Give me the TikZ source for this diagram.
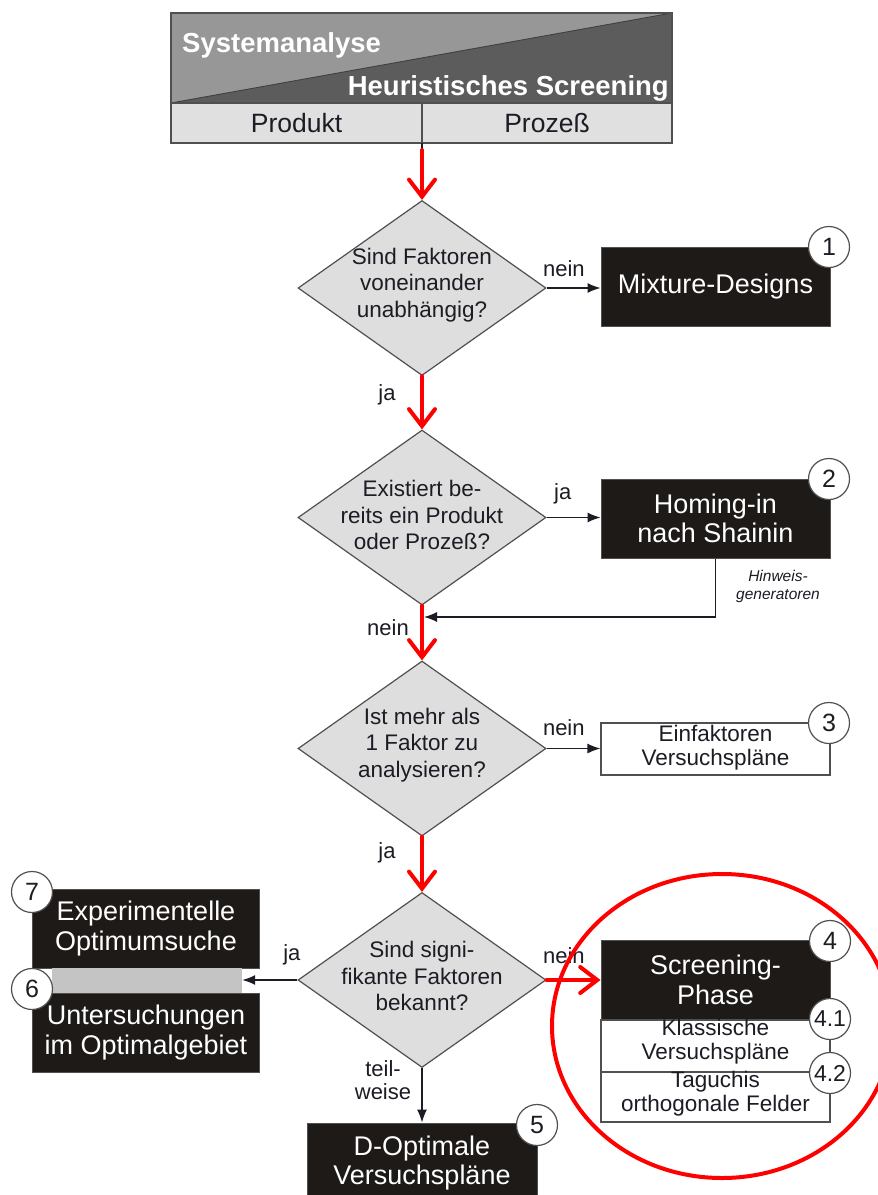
\documentclass[tikz,border=0pt]{standalone}
\usepackage{fontspec}
\setmainfont{Liberation Sans}
\usetikzlibrary{shapes.geometric,arrows.meta}

\definecolor{boxblack}{HTML}{1E1A18}
\definecolor{diafill}{HTML}{DEDEDE}
\definecolor{edge}{HTML}{505050}
\definecolor{hlight}{HTML}{979797}
\definecolor{hdark}{HTML}{5C5C5C}
\definecolor{rowfill}{HTML}{E0E0E0}
\definecolor{barfill}{HTML}{C4C4C4}
\definecolor{ink}{HTML}{1C1C24}

\tikzset{
  dia/.style={diamond, draw=edge, fill=diafill, line width=1.2pt,
    minimum width=248pt, minimum height=175pt, inner sep=0pt},
  dtext/.style={align=center, text=ink, inner sep=0pt,
    font=\fontsize{22.5}{26.5}\selectfont},
  blk/.style={rectangle, draw=edge, fill=boxblack, text=white, line width=1pt,
    align=center, inner sep=0pt, minimum width=229pt, minimum height=79pt,
    font=\fontsize{27}{29.5}\selectfont},
  wbox/.style={rectangle, draw=edge, fill=white, line width=1.2pt,
    minimum width=229pt, inner sep=0pt},
  wtext/.style={align=center, text=ink, inner sep=0pt,
    font=\fontsize{22.5}{24}\selectfont},
  num/.style={circle, draw=edge, fill=white, line width=1.2pt, text=ink,
    minimum size=41pt, inner sep=0pt, font=\fontsize{25}{25}\selectfont},
  numsm/.style={num, font=\fontsize{23}{23}\selectfont},
  lbl/.style={text=ink, inner sep=0pt, align=center,
    font=\fontsize{22}{23}\selectfont},
  flow/.style={red, line width=4pt, line cap=round,
    -{Straight Barb[length=17pt,width=26pt,line cap=round]}},
  side/.style={draw=ink, line width=1.3pt, -{Latex[length=13pt,width=10pt]}},
  hdrtext/.style={text=white, inner sep=0pt,
    font=\bfseries\fontsize{27.5}{27.5}\selectfont},
  rowcell/.style={rectangle, fill=rowfill, text=ink, inner sep=0pt,
    minimum height=40pt, font=\fontsize{26.5}{26.5}\selectfont}
}

\begin{document}
\begin{tikzpicture}[x=1pt, y=-1pt]
\clip (0,0) rectangle (878,1195);
\fill[white] (0,0) rectangle (878,1195);

% ---------- header: Systemanalyse / Heuristisches Screening ----------
\coordinate (hTL) at (171,13);
\coordinate (hTR) at (672,13);
\coordinate (hML) at (171,103);
\coordinate (hMR) at (672,103);
\coordinate (hBL) at (171,143);
\coordinate (hBR) at (672,143);
\coordinate (hS) at (422,143);
\fill[hlight] (hTL) -- (hTR) -- (hML) -- cycle;
\fill[hdark] (hTR) -- (hMR) -- (hML) -- cycle;
\draw[black!75, line width=0.9pt] (hML) -- (hTR);
\node[hdrtext, anchor=west] (sys) at (182,45) {Systemanalyse};
\node[hdrtext, anchor=east] (heu) at (669,88) {Heuristisches Screening};
\node[rowcell, minimum width=251pt] (prod) at (296.5,123) {Produkt};
\node[rowcell, minimum width=250pt] (proz) at (547,123) {Prozeß};
\draw[edge, line width=1.5pt] (hML) -- (hMR);
\draw[edge, line width=1.2pt] (422,103) -- (hS);
\draw[edge, line width=1.5pt] (hTL) rectangle (hBR);

% ---------- decisions ----------
\node[dia] (d1) at (422,288) {};
\node[dtext] (t1) at (422,285) {Sind Faktoren\\voneinander\\unabhängig?};
\node[dia] (d2) at (422,517.5) {};
\node[dtext] (t2) at (422,515) {Existiert be-\\reits ein Produkt\\oder Prozeß?};
\node[dia] (d3) at (422,748.5) {};
\node[dtext] (t3) at (422,745) {Ist mehr als\\1 Faktor zu\\analysieren?};
\node[dia] (d4) at (422,980) {};
\node[dtext] (t4) at (422,976) {Sind signi-\\fikante Faktoren\\bekannt?};

% ---------- method boxes ----------
\node[blk] (b1) at (715.5,286.5) {Mixture-Designs};
\node[blk] (b2) at (715.5,518.5) {Homing-in\\nach Shainin};
\node[wbox, minimum height=52pt] (b3) at (715.5,749) {};
\node[wtext] (t3b) at (715.5,748) {Einfaktoren\\Versuchspläne};
\node[blk, minimum height=80pt] (b4) at (715.5,980) {Screening-\\Phase};
\node[wbox, minimum height=52pt] (b41) at (715.5,1046) {};
\node[wtext] (t41) at (715.5,1041.5) {Klassische\\Versuchspläne};
\node[wbox, minimum height=50pt] (b42) at (715.5,1097) {};
\node[wtext] (t42) at (715.5,1094) {Taguchis\\orthogonale Felder};
\node[blk, minimum width=230pt, minimum height=80pt] (b5) at (422,1163)
  {D-Optimale\\Versuchspläne};
\node[blk, minimum width=227pt] (b7) at (146,928.5) {Experimentelle\\Optimumsuche};
\node[rectangle, fill=barfill, minimum width=190pt, minimum height=25pt,
  inner sep=0pt] (bar) at (147,980.5) {};
\node[blk, minimum width=227pt] (b6) at (146,1032.5) {Untersuchungen\\im Optimalgebiet};

% ---------- number badges ----------
\node[num] (n1) at (829,247) {1};
\node[num] (n2) at (829,479) {2};
\node[num] (n3) at (829,723) {3};
\node[num] (n4) at (830,941) {4};
\node[numsm] (n41) at (830,1019) {4.1};
\node[numsm] (n42) at (830,1073) {4.2};
\node[num] (n5) at (537,1125) {5};
\node[num] (n6) at (32,989) {6};
\node[num] (n7) at (32,892) {7};

% ---------- main flow (red) ----------
\draw[ink, line width=1.2pt] (hS) -- ++(0,10);
\draw[flow] ([yshift=-7pt]hS) -- (d1.north);
\draw[flow] (d1.south) -- (d2.north)
  node[lbl, pos=0.36, xshift=-35pt] (lja1) {ja};
\draw[flow] (d2.south) -- (d3.north)
  node[lbl, pos=0.4, xshift=-34pt] (lnein2) {nein};
\draw[flow] (d3.south) -- (d4.north)
  node[lbl, pos=0.3, xshift=-35pt] (lja3) {ja};
\draw[flow] (d4.east) -- (d4.east -| b4.west)
  node[lbl, pos=0.32, yshift=24pt] (lnein4) {nein};

% ---------- side branches ----------
\draw[side] (d1.east) -- (d1.east -| b1.west)
  node[lbl, pos=0.32, yshift=19pt] (lnein1) {nein};
\draw[side] (d2.east) -- (d2.east -| b2.west)
  node[lbl, pos=0.3, yshift=24pt] (lja2) {ja};
\draw[side] (d3.east) -- (d3.east -| b3.west)
  node[lbl, pos=0.32, yshift=21pt] (lnein3) {nein};
\draw[side] (d4.west) -- (d4.west -| bar.east)
  node[lbl, pos=0.1, yshift=25pt] (lja4) {ja};
\draw[side] (d4.south) -- (b5.north)
  node[lbl, pos=0.22, xshift=-39pt] (lteil) {teil-\\weise};

% ---------- feedback from Homing-in ----------
\coordinate (hg) at (424,617);
\draw[side] (b2.south) |- (hg);
\node[text=ink, align=center, inner sep=0pt,
  font=\itshape\fontsize{15.5}{18}\selectfont] (hint) at (778,586)
  {Hinweis-\\generatoren};

% ---------- highlight ring ----------
\draw[red, line width=4pt] (722,1026) ellipse [x radius=170pt, y radius=152pt];
\end{tikzpicture}
\end{document}
